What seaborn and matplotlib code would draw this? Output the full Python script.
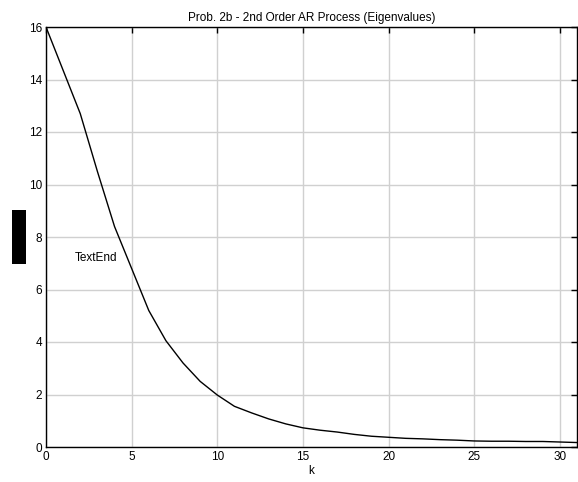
import matplotlib
matplotlib.use("Agg")
import matplotlib.pyplot as plt
import seaborn as sns
import pandas as pd
from matplotlib.patches import Rectangle

k = list(range(32))
eigenvalues = [16.0, 14.35, 12.7, 10.5, 8.4, 6.8, 5.2, 4.05, 3.2, 2.5,
               1.98, 1.55, 1.3, 1.07, 0.88, 0.73, 0.64, 0.57, 0.48, 0.41,
               0.37, 0.33, 0.31, 0.28, 0.26, 0.23, 0.22, 0.22, 0.21, 0.21,
               0.19, 0.17]
title = "Prob. 2b - 2nd Order AR Process (Eigenvalues)"
xticks = [0, 5, 10, 15, 20, 25, 30]
yticks = [0, 2, 4, 6, 8, 10, 12, 14, 16]

sns.set_theme(style="whitegrid")
plt.rcParams['font.family'] = ['Liberation Sans', 'DejaVu Sans']

df = pd.DataFrame({"k": k, "lam": eigenvalues})

fig = plt.figure(figsize=(5.78, 4.82), dpi=100)
ax = fig.add_axes([46/578, 1-447/482, (577-46)/578, (447-27)/482])
sns.lineplot(data=df, x="k", y="lam", ax=ax, color="black", linewidth=1.0)

ax.set_xlim(0, 31)
ax.set_ylim(0, 16)
ax.set_xticks(xticks)
ax.set_yticks(yticks)
ax.grid(True, color="#d0d0d0", linewidth=1.0)
ax.set_facecolor("white")
for s in ax.spines.values():
    s.set_color("black")
    s.set_linewidth(1.0)
ax.tick_params(direction="in", length=4, width=1, color="black",
               top=True, right=True, labelsize=8.5, pad=3, labelcolor="black")
ax.set_xlabel("k", fontsize=8.5, labelpad=1, color="black")
ax.set_ylabel("")
ax.set_title(title, fontsize=8.5, pad=4, color="black")
ax.text(1.7, 7.2, "TextEnd", fontsize=8.5, ha="left", va="center", color="black")

fig.patches.append(Rectangle((12/578, 1-264/482), 14/578, 54/482,
                             transform=fig.transFigure, facecolor="black",
                             edgecolor="none"))

fig.savefig("out.png", dpi=100)
